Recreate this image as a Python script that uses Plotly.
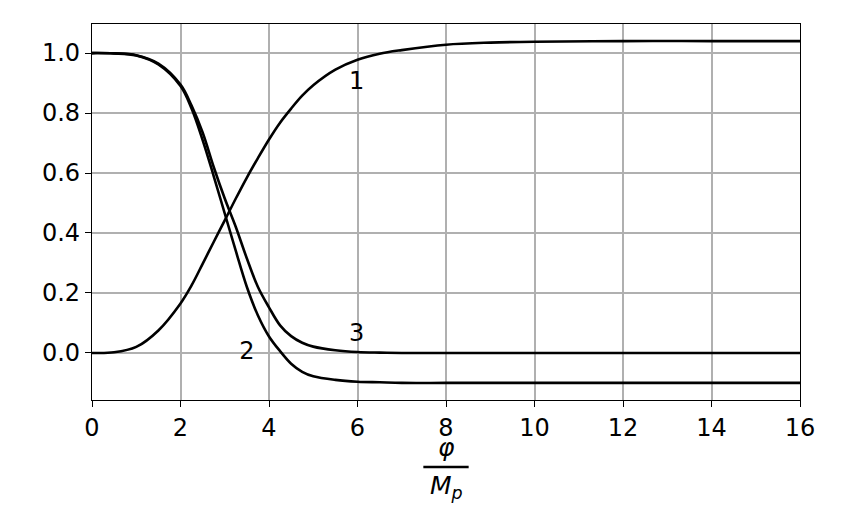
import plotly.graph_objects as go

# values
x_vals = [0, 0.5, 1, 1.5, 2, 2.25, 2.5, 2.75, 3, 3.25, 3.5, 3.75, 4,
          4.25, 4.5, 4.75, 5, 5.5, 6, 6.5, 7, 8, 9, 10, 12, 14, 16]
curve_1 = [0.0, 0.002, 0.02, 0.075, 0.165, 0.225, 0.297, 0.37, 0.442, 0.515,
           0.585, 0.65, 0.712, 0.768, 0.815, 0.858, 0.893, 0.945, 0.978,
           0.998, 1.01, 1.028, 1.035, 1.038, 1.04, 1.04, 1.04]
curve_2 = [1.0, 0.999, 0.992, 0.962, 0.89, 0.815, 0.71, 0.59, 0.465, 0.34,
           0.22, 0.125, 0.055, 0.006, -0.036, -0.063, -0.078, -0.09, -0.096,
           -0.098, -0.1, -0.1, -0.1, -0.1, -0.1, -0.1, -0.1]
curve_3 = [1.0, 0.999, 0.993, 0.965, 0.895, 0.825, 0.735, 0.62, 0.515, 0.42,
           0.315, 0.22, 0.152, 0.092, 0.056, 0.034, 0.021, 0.009, 0.003,
           0.001, 0.0, 0.0, 0.0, 0.0, 0.0, 0.0, 0.0]

curve_labels = ["1", "2", "3"]
label_x = [5.98, 3.5, 5.98]
label_y = [0.9, 0.0, 0.06]

x_ticks = [0, 2, 4, 6, 8, 10, 12, 14, 16]
y_ticks = [0.0, 0.2, 0.4, 0.6, 0.8, 1.0]

FONT = "DejaVu Sans"

fig = go.Figure()
for ys in (curve_1, curve_2, curve_3):
    fig.add_trace(go.Scatter(
        x=x_vals, y=ys, mode="lines",
        line=dict(color="black", width=2.6, shape="spline", smoothing=1.0),
        showlegend=False, hoverinfo="skip"))

fig.add_trace(go.Scatter(
    x=label_x, y=label_y, text=curve_labels, mode="text",
    textfont=dict(family=FONT, size=24, color="black"),
    showlegend=False, hoverinfo="skip"))

# page body adds 8px, margins are set to compensate
fig.update_layout(
    width=850, height=523,
    margin=dict(l=84, r=58, t=16, b=131),
    plot_bgcolor="white",
    paper_bgcolor="white",
    font=dict(family=FONT, size=24, color="black"),
    annotations=[
        dict(x=0.5, y=-0.125, xref="paper", yref="paper", text="<i>φ</i>",
             showarrow=False, font=dict(size=25), yanchor="middle"),
        dict(x=0.5, y=-0.232, xref="paper", yref="paper",
             text="<i>M<sub>p</sub></i>",
             showarrow=False, font=dict(size=25), yanchor="middle"),
    ],
    shapes=[dict(type="line", xref="paper", yref="paper",
                 x0=0.468, x1=0.532, y0=-0.178, y1=-0.178,
                 line=dict(color="black", width=2.5))],
)

fig.update_xaxes(
    range=[0, 16], tickvals=x_ticks,
    showgrid=True, gridcolor="#b0b0b0", gridwidth=1.5,
    showline=True, linecolor="black", linewidth=1.2, mirror=True,
    ticks="outside", ticklen=6, tickwidth=1.2, tickcolor="black",
    zeroline=False)
fig.update_yaxes(
    range=[-0.157, 1.097], tickvals=y_ticks, tickformat=".1f",
    showgrid=True, gridcolor="#b0b0b0", gridwidth=1.5,
    showline=True, linecolor="black", linewidth=1.2, mirror=True,
    ticks="outside", ticklen=6, tickwidth=1.2, tickcolor="black",
    zeroline=False)

fig.write_html("out.html")
